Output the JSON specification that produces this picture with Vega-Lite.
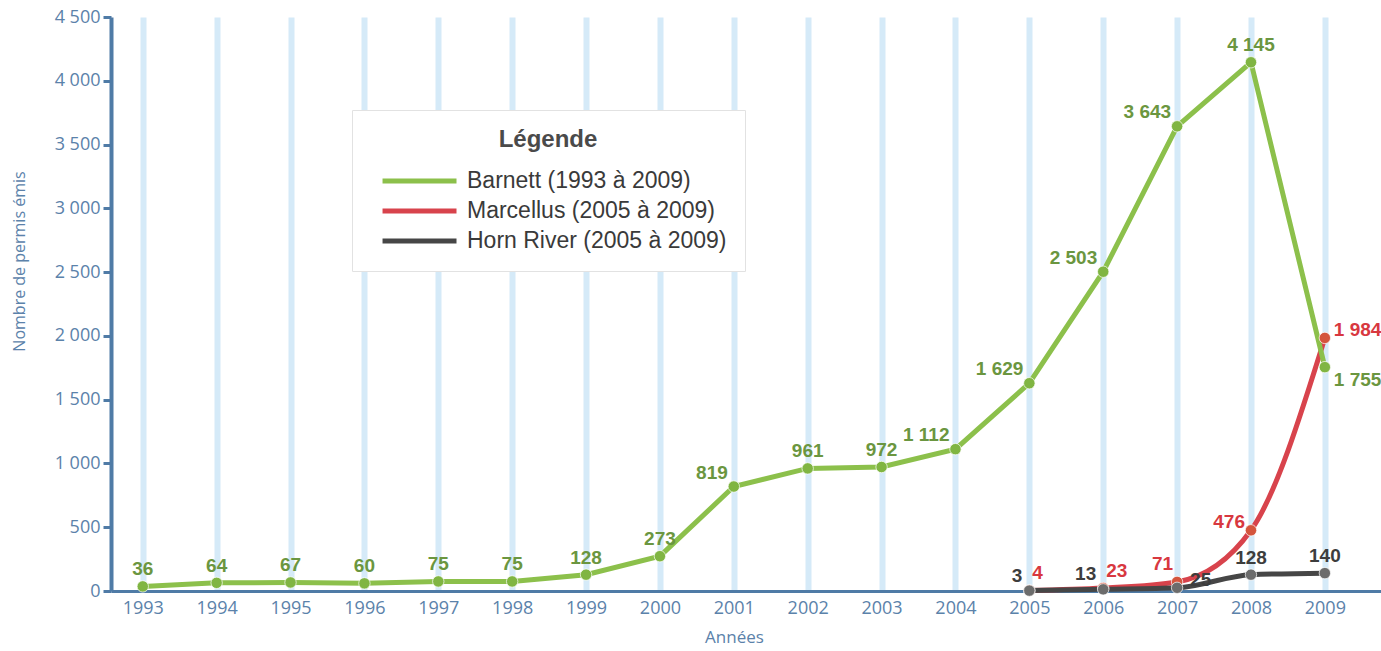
{
  "$schema": "https://vega.github.io/schema/vega-lite/v6.json",
  "width": 1270,
  "height": 574,
  "autosize": {"type": "none"},
  "padding": {"left": 111, "top": 17, "right": 0, "bottom": 60},
  "background": "#ffffff",
  "config": {
    "locale": {"number": {"decimal": ",", "thousands": " ", "grouping": [3], "currency": ["", " €"]}},
    "view": {"stroke": null}
  },
  "data": {
    "values": [
      {"serie": "Barnett (1993 à 2009)", "year": 1993, "value": 36},
      {"serie": "Barnett (1993 à 2009)", "year": 1994, "value": 64},
      {"serie": "Barnett (1993 à 2009)", "year": 1995, "value": 67},
      {"serie": "Barnett (1993 à 2009)", "year": 1996, "value": 60},
      {"serie": "Barnett (1993 à 2009)", "year": 1997, "value": 75},
      {"serie": "Barnett (1993 à 2009)", "year": 1998, "value": 75},
      {"serie": "Barnett (1993 à 2009)", "year": 1999, "value": 128},
      {"serie": "Barnett (1993 à 2009)", "year": 2000, "value": 273},
      {"serie": "Barnett (1993 à 2009)", "year": 2001, "value": 819},
      {"serie": "Barnett (1993 à 2009)", "year": 2002, "value": 961},
      {"serie": "Barnett (1993 à 2009)", "year": 2003, "value": 972},
      {"serie": "Barnett (1993 à 2009)", "year": 2004, "value": 1112},
      {"serie": "Barnett (1993 à 2009)", "year": 2005, "value": 1629},
      {"serie": "Barnett (1993 à 2009)", "year": 2006, "value": 2503},
      {"serie": "Barnett (1993 à 2009)", "year": 2007, "value": 3643},
      {"serie": "Barnett (1993 à 2009)", "year": 2008, "value": 4145},
      {"serie": "Barnett (1993 à 2009)", "year": 2009, "value": 1755},
      {"serie": "Marcellus (2005 à 2009)", "year": 2005, "value": 4},
      {"serie": "Marcellus (2005 à 2009)", "year": 2006, "value": 23},
      {"serie": "Marcellus (2005 à 2009)", "year": 2007, "value": 71},
      {"serie": "Marcellus (2005 à 2009)", "year": 2008, "value": 476},
      {"serie": "Marcellus (2005 à 2009)", "year": 2009, "value": 1984},
      {"serie": "Horn River (2005 à 2009)", "year": 2005, "value": 3},
      {"serie": "Horn River (2005 à 2009)", "year": 2006, "value": 13},
      {"serie": "Horn River (2005 à 2009)", "year": 2007, "value": 25},
      {"serie": "Horn River (2005 à 2009)", "year": 2008, "value": 128},
      {"serie": "Horn River (2005 à 2009)", "year": 2009, "value": 140}
    ]
  },
  "encoding": {
    "x": {
      "field": "year",
      "type": "quantitative",
      "scale": {"domain": [1992.57, 2009.76], "nice": false, "zero": false},
      "axis": {
        "values": [1993, 1994, 1995, 1996, 1997, 1998, 1999, 2000, 2001, 2002, 2003, 2004, 2005, 2006, 2007, 2008, 2009],
        "format": "d",
        "title": "Années",
        "titleX": 623,
        "titleFont": "Open Sans",
        "titleFontSize": 17,
        "titleFontWeight": "normal",
        "titleColor": "#5b82aa",
        "titlePadding": 12,
        "grid": true,
        "gridColor": "#d5eaf8",
        "gridWidth": 6,
        "ticks": false,
        "domainColor": "#4f7ba6",
        "domainWidth": 3,
        "labelFont": "Open Sans",
        "labelFontSize": 18,
        "labelColor": "#5b82aa",
        "labelPadding": 8
      }
    },
    "y": {
      "field": "value",
      "type": "quantitative",
      "scale": {"domain": [0, 4500], "nice": false},
      "axis": {
        "values": [0, 500, 1000, 1500, 2000, 2500, 3000, 3500, 4000, 4500],
        "format": ",d",
        "title": "Nombre de permis émis",
        "titleY": 244,
        "titleFont": "Open Sans",
        "titleFontSize": 16,
        "titleFontWeight": "normal",
        "titleColor": "#5b82aa",
        "titlePadding": 27,
        "grid": false,
        "domainColor": "#4f7ba6",
        "domainWidth": 4,
        "tickColor": "#4f7ba6",
        "tickWidth": 3,
        "tickSize": 8,
        "labelFont": "Open Sans",
        "labelFontSize": 18,
        "labelColor": "#5b82aa",
        "labelPadding": 3
      }
    }
  },
  "layer": [
    {
      "transform": [{"filter": {"field": "serie", "oneOf": ["Marcellus (2005 à 2009)", "Horn River (2005 à 2009)"]}}],
      "mark": {"type": "line", "interpolate": "monotone", "strokeWidth": 5},
      "encoding": {
        "color": {
          "field": "serie",
          "type": "nominal",
          "scale": {"domain": ["Barnett (1993 à 2009)", "Marcellus (2005 à 2009)", "Horn River (2005 à 2009)"], "range": ["#8cc04b", "#d8434c", "#464646"]},
          "legend": {
            "orient": "none",
            "legendX": 241,
            "legendY": 93,
            "title": "Légende",
            "titleFont": "Liberation Sans",
            "titleFontSize": 24,
            "titleFontWeight": "bold",
            "titleColor": "#4a4a4a",
            "titleAnchor": "middle",
            "titlePadding": 14,
            "labelFont": "Liberation Sans",
            "labelFontSize": 23,
            "labelColor": "#3a3a3a",
            "labelLimit": 400,
            "labelOffset": 67,
            "symbolType": "M-0.2,0H5.8",
            "symbolSize": 608,
            "symbolStrokeWidth": 5,
            "padding": 18,
            "rowPadding": 3,
            "fillColor": "#ffffff",
            "strokeColor": "#e2e2e2"
          }
        }
      }
    },
    {
      "transform": [{"filter": {"field": "serie", "equal": "Barnett (1993 à 2009)"}}],
      "mark": {"type": "line", "interpolate": "linear", "strokeWidth": 5},
      "encoding": {
        "color": {"field": "serie", "type": "nominal"}
      }
    },
    {
      "mark": {"type": "point", "filled": true, "size": 130, "stroke": "#ffffff", "strokeWidth": 1, "strokeOpacity": 0.7, "opacity": 1},
      "encoding": {
        "fill": {
          "field": "serie",
          "type": "nominal",
          "scale": {"domain": ["Barnett (1993 à 2009)", "Marcellus (2005 à 2009)", "Horn River (2005 à 2009)"], "range": ["#80b542", "#d4553d", "#6c6c6c"]},
          "legend": null
        }
      }
    },
    {
      "transform": [{"filter": {"and": [{"field": "serie", "equal": "Barnett (1993 à 2009)"}, {"field": "year", "oneOf": [1993, 1994, 1995, 1996, 1997, 1998, 1999, 2000, 2002, 2003, 2008]}]}}],
      "mark": {"type": "text", "font": "Liberation Sans", "fontWeight": "bold", "fontSize": 19, "color": "#6b9640", "align": "center", "baseline": "middle", "dy": -17},
      "encoding": {"text": {"field": "value", "type": "quantitative", "format": ",d"}}
    },
    {
      "transform": [{"filter": {"and": [{"field": "serie", "equal": "Barnett (1993 à 2009)"}, {"field": "year", "oneOf": [2001, 2004, 2005, 2006, 2007]}]}}],
      "mark": {"type": "text", "font": "Liberation Sans", "fontWeight": "bold", "fontSize": 19, "color": "#6b9640", "align": "right", "baseline": "middle", "dx": -6, "dy": -14},
      "encoding": {"text": {"field": "value", "type": "quantitative", "format": ",d"}}
    },
    {
      "transform": [{"filter": {"and": [{"field": "serie", "equal": "Barnett (1993 à 2009)"}, {"field": "year", "equal": 2009}]}}],
      "mark": {"type": "text", "font": "Liberation Sans", "fontWeight": "bold", "fontSize": 19, "color": "#6b9640", "align": "left", "baseline": "middle", "dx": 9, "dy": 13},
      "encoding": {"text": {"field": "value", "type": "quantitative", "format": ",d"}}
    },
    {
      "transform": [{"filter": {"and": [{"field": "serie", "equal": "Marcellus (2005 à 2009)"}, {"field": "year", "oneOf": [2005, 2006]}]}}],
      "mark": {"type": "text", "font": "Liberation Sans", "fontWeight": "bold", "fontSize": 19, "color": "#d8383f", "align": "left", "baseline": "middle", "dx": 3, "dy": -17},
      "encoding": {"text": {"field": "value", "type": "quantitative", "format": ",d"}}
    },
    {
      "transform": [{"filter": {"and": [{"field": "serie", "equal": "Marcellus (2005 à 2009)"}, {"field": "year", "equal": 2007}]}}],
      "mark": {"type": "text", "font": "Liberation Sans", "fontWeight": "bold", "fontSize": 19, "color": "#d8383f", "align": "right", "baseline": "middle", "dx": -4, "dy": -18},
      "encoding": {"text": {"field": "value", "type": "quantitative", "format": ",d"}}
    },
    {
      "transform": [{"filter": {"and": [{"field": "serie", "equal": "Marcellus (2005 à 2009)"}, {"field": "year", "equal": 2008}]}}],
      "mark": {"type": "text", "font": "Liberation Sans", "fontWeight": "bold", "fontSize": 19, "color": "#d8383f", "align": "right", "baseline": "middle", "dx": -6, "dy": -8},
      "encoding": {"text": {"field": "value", "type": "quantitative", "format": ",d"}}
    },
    {
      "transform": [{"filter": {"and": [{"field": "serie", "equal": "Marcellus (2005 à 2009)"}, {"field": "year", "equal": 2009}]}}],
      "mark": {"type": "text", "font": "Liberation Sans", "fontWeight": "bold", "fontSize": 19, "color": "#d8383f", "align": "left", "baseline": "middle", "dx": 9, "dy": -8},
      "encoding": {"text": {"field": "value", "type": "quantitative", "format": ",d"}}
    },
    {
      "transform": [{"filter": {"and": [{"field": "serie", "equal": "Horn River (2005 à 2009)"}, {"field": "year", "oneOf": [2005, 2006]}]}}],
      "mark": {"type": "text", "font": "Liberation Sans", "fontWeight": "bold", "fontSize": 19, "color": "#3d3d3d", "align": "right", "baseline": "middle", "dx": -7, "dy": -15},
      "encoding": {"text": {"field": "value", "type": "quantitative", "format": ",d"}}
    },
    {
      "transform": [{"filter": {"and": [{"field": "serie", "equal": "Horn River (2005 à 2009)"}, {"field": "year", "equal": 2007}]}}],
      "mark": {"type": "text", "font": "Liberation Sans", "fontWeight": "bold", "fontSize": 19, "color": "#3d3d3d", "align": "left", "baseline": "middle", "dx": 13, "dy": -8},
      "encoding": {"text": {"field": "value", "type": "quantitative", "format": ",d"}}
    },
    {
      "transform": [{"filter": {"and": [{"field": "serie", "equal": "Horn River (2005 à 2009)"}, {"field": "year", "oneOf": [2008, 2009]}]}}],
      "mark": {"type": "text", "font": "Liberation Sans", "fontWeight": "bold", "fontSize": 19, "color": "#3d3d3d", "align": "center", "baseline": "middle", "dy": -17},
      "encoding": {"text": {"field": "value", "type": "quantitative", "format": ",d"}}
    }
  ]
}
